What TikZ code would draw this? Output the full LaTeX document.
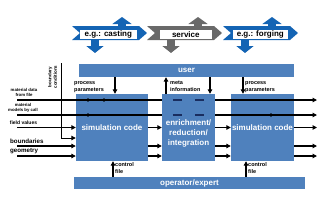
\documentclass[tikz,border=0pt]{standalone}
\usepackage{fontspec}
\setmainfont{Liberation Sans}
\usetikzlibrary{arrows.meta}
\definecolor{boxblue}{RGB}{79,129,189}
\definecolor{stageblue}{RGB}{20,100,180}
\definecolor{stagegray}{RGB}{105,105,105}
\definecolor{dashnavy}{RGB}{25,45,95}

\begin{document}
\begin{tikzpicture}[x=1pt, y=-1pt,
  codebox/.style={fill=boxblue, inner sep=0pt, text=white, align=center, font=\fontsize{8}{10}\selectfont\bfseries},
  bar/.style={fill=boxblue, inner sep=0pt, minimum height=13pt, text=white, font=\fontsize{8}{10}\selectfont\bfseries},
  stagetext/.style={fill=white, inner sep=0pt, minimum height=9pt, font=\fontsize{8}{10}\selectfont\bfseries},
  smalltext/.style={inner sep=0pt, align=left, font=\fontsize{5.5}{7}\selectfont\bfseries},
  tinytext/.style={inner sep=0pt, align=center, font=\fontsize{4.3}{5.5}\selectfont\bfseries},
  wire/.style={line width=1.2pt},
  flow/.style={-{Triangle[length=4.5pt,width=4.5pt]}, line width=1.2pt},
  dashwire/.style={line width=1.6pt, dashnavy, dash pattern=on 9pt off 13pt, dash phase=11pt},
  joint/.style={circle, fill, inner sep=0pt, minimum size=3.6pt}
]
\useasboundingbox (0,0) rectangle (330,204);

% process chain on top
\foreach \xl/\up/\dn/\col/\txt/\tw in {72/122/95/stageblue/{e.g.: casting}/57, 147/198/171/stagegray/service/52, 223/272/245/stageblue/{e.g.: forging}/55}{
  \fill[\col] (\xl,26) -- (\xl+67,26) -- (\xl+75,33) -- (\xl+67,40) -- (\xl,40) -- (\xl+8,33) -- cycle;
  \draw[\col, line width=8pt, -{Triangle[length=7pt,width=19pt]}] (\up,30) -- (\up,17);
  \draw[\col, line width=8pt, -{Triangle[length=7pt,width=17pt]}] (\dn,36) -- (\dn,53);
  \node[stagetext, minimum width=\tw pt, anchor=east] at (\xl+65,34.5) {\txt};
}

% bars and boxes
\node[bar, minimum width=215pt] (user) at (186.5,70.5) {user};
\node[bar, minimum width=231pt, minimum height=12pt] (expert) at (189.5,183) {operator/expert};
\node[codebox, minimum width=72pt, minimum height=67pt] (sim1) at (112,127.5) {simulation code};
\node[codebox, minimum width=53pt, minimum height=67pt] (enr) at (188.5,127.5) {};
\node[codebox] at ([yshift=-5.5pt]enr.center) {enrichment/\\reduction/\\integration};
\node[codebox, minimum width=63pt, minimum height=67pt] (sim2) at (262.5,127.5) {simulation code};

% inputs and outputs
\coordinate (matfile) at (17,100);
\coordinate (matcall) at (17,115);
\coordinate (field) at (17,127.5);
\coordinate (bnd) at (17,146);
\coordinate (geo) at (17,156);
\coordinate (outfile) at (317,100);
\coordinate (outcall) at (317,115);
\coordinate (outfield) at (317,127.5);
\coordinate (bctop) at (61,63);

\foreach \src/\dst in {matfile/outfile, matcall/outcall}{
  \draw[wire] (\src) -- (\src -| enr.west);
  \draw[dashwire] (\src -| enr.west) -- (\src -| enr.east);
  \draw[flow] (\src -| enr.east) -- (\dst);
}
\node[joint] at (88,100) {};
\node[joint] at (104,100) {};
\node[joint] at (88,115) {};
\node[joint] at (271,115) {};

\draw[flow] (field) -- (sim1.west);
\draw[flow] (sim1.east) -- (enr.west);
\draw[flow] (enr.east) -- (sim2.west);
\draw[flow] (sim2.east) -- (outfield);
\foreach \src in {bnd, geo}{
  \draw[flow] (\src) -- (\src -| sim1.west);
  \draw[flow] (\src -| sim1.east) -- (\src -| enr.west);
  \draw[flow] (\src -| enr.east) -- (\src -| sim2.west);
  \draw[flow] (\src -| sim2.east) -- (\src -| outfield);
}
\draw[flow, line width=1pt] (bctop) |- ([yshift=-10.5pt]sim1.west);

% links to user and operator
\coordinate (pp1) at (115,0);
\coordinate (pp2) at (243,0);
\coordinate (mi1) at (166,0);
\coordinate (mi2) at (210,0);
\coordinate (cf1) at (113,0);
\coordinate (cf2) at (246,0);
\draw[flow] (user.south -| pp1) -- (sim1.north -| pp1);
\draw[flow] (user.south -| pp2) -- (sim2.north -| pp2);
\draw[flow] (enr.north -| mi1) -- (user.south -| mi1);
\draw[flow] (user.south -| mi2) -- (enr.north -| mi2);
\draw[flow] (expert.north -| cf1) -- (sim1.south -| cf1);
\draw[flow] (expert.north -| cf2) -- (sim2.south -| cf2);

% labels
\node[smalltext, anchor=west] (pplabel1) at (74,87) {process\\parameters};
\node[smalltext, anchor=west] (pplabel2) at (245,87) {process\\parameters};
\node[smalltext, anchor=west] (milabel) at (170,86.5) {meta\\information};
\node[smalltext, anchor=west] (cflabel1) at (115,168) {control\\file};
\node[smalltext, anchor=west] (cflabel2) at (248,168) {control\\file};
\node[tinytext] (matfilelabel) at (24,92.5) {material data\\from file};
\node[tinytext] (matcalllabel) at (23,108) {material\\models by call};
\node[smalltext, font=\fontsize{5}{6}\selectfont\bfseries] (fieldlabel) at (23.5,123) {field values};
\node[smalltext, anchor=west, font=\fontsize{6.2}{7}\selectfont\bfseries] (bndlabel) at (10,141) {boundaries};
\node[smalltext, anchor=west, font=\fontsize{6.2}{7}\selectfont\bfseries] (geolabel) at (10,151) {geometry};
\node[tinytext, rotate=90, font=\fontsize{4.5}{5.5}\selectfont\bfseries] (bclabel) at (52.5,77) {boundary\\conditions};
\end{tikzpicture}
\end{document}
